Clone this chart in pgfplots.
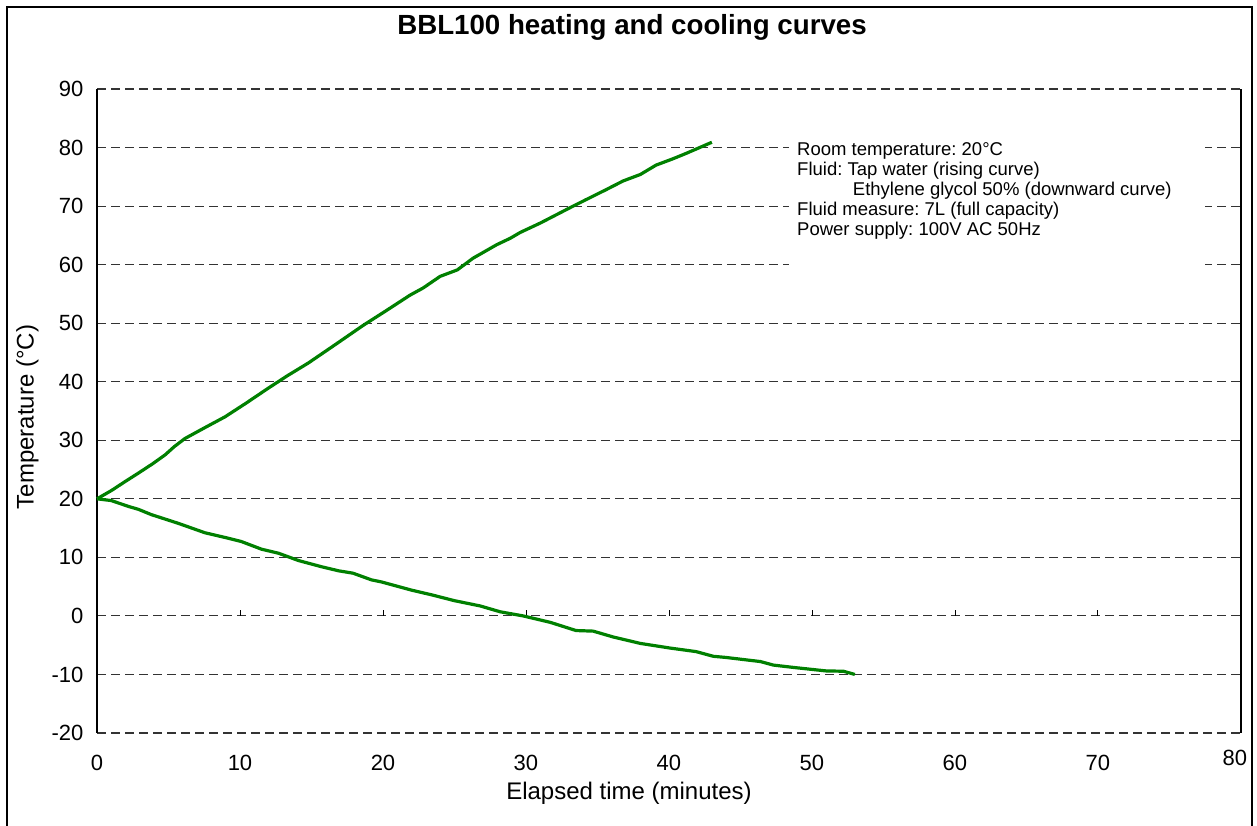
\documentclass[border=0pt]{standalone}
\usepackage{pgfplots}
\pgfplotsset{compat=1.18}
\usepackage{fontspec}
\setmainfont{Liberation Sans}
\frenchspacing
\definecolor{curvegreen}{RGB}{0,128,0}

\begin{document}
\begin{tikzpicture}
\begin{axis}[
  scale only axis, width=1144pt, height=644pt,
  xmin=0, xmax=80, ymin=-20, ymax=90,
  xtick={0,10,...,70}, ytick={-20,-10,...,90},
  extra x ticks={80},
  extra x tick style={xticklabel style={xshift=-6pt, yshift=5pt}},
  ymajorgrids,
  grid style={black!80, line width=1.1pt, dash pattern=on 9pt off 5pt},
  axis line style={draw=none},
  major tick length=0pt,
  tick label style={font=\fontsize{22}{26}\selectfont},
  /pgf/number format/assume math mode=true,
  xticklabel style={inner sep=0pt, anchor=north, yshift=-22pt},
  yticklabel style={inner sep=0pt, anchor=east, xshift=-13.5pt},
  clip=false,
]
\coordinate (O) at (rel axis cs:0,1);
\draw[line width=1.6pt] (rel axis cs:0,0) -- (rel axis cs:0,1);
\draw[line width=1.6pt] (rel axis cs:1,0) -- (rel axis cs:1,1);
% small ticks on the zero line
\draw[line width=0.9pt] (axis cs:10,0) -- ([yshift=6pt]axis cs:10,0);
\draw[line width=0.9pt] (axis cs:20,0) -- ([yshift=6pt]axis cs:20,0);
\draw[line width=0.9pt] (axis cs:30,0) -- ([yshift=6pt]axis cs:30,0);
\draw[line width=0.9pt] (axis cs:40,0) -- ([yshift=6pt]axis cs:40,0);
\draw[line width=0.9pt] (axis cs:50,0) -- ([yshift=6pt]axis cs:50,0);
\draw[line width=0.9pt] (axis cs:60,0) -- ([yshift=6pt]axis cs:60,0);
\draw[line width=0.9pt] (axis cs:70,0) -- ([yshift=6pt]axis cs:70,0);
% white box behind annotation
\fill[white] (axis cs:48.4,59.2) rectangle (axis cs:77.5,82.6);

% heating curve (tap water)
\addplot[curvegreen, line width=3.2pt, line join=round, no markers] coordinates {
(0,20) (1.0,21.4) (2.0,23.0) (2.9,24.4) (3.9,26.0) (4.76,27.5) (5.4,28.9) (6.15,30.3)
(7.5,32.1) (8.95,34.0) (10.4,36.3) (11.98,38.9) (13.3,41.0) (14.78,43.2)
(16.7,46.4) (18.6,49.6) (20.2,52.1) (21.9,54.8) (22.8,56.0)
(24.0,58.0) (25.2,59.1) (26.3,61.1) (27.95,63.4) (28.9,64.5) (29.6,65.5)
(31.0,67.1) (33.3,70.0) (34.2,71.1) (35.6,72.8) (36.8,74.3) (38.0,75.4)
(39.1,77.0) (40.3,78.1) (41.2,79.0) (43.0,80.9)
};
% cooling curve (ethylene glycol 50%)
\addplot[curvegreen, line width=3.2pt, line join=round, no markers] coordinates {
(0,20) (1.0,19.7) (2.2,18.7) (2.9,18.2) (3.8,17.3) (5.7,15.8) (7.55,14.2)
(8.95,13.4) (10.1,12.7) (11.5,11.4) (12.7,10.7) (14.1,9.45) (15.7,8.4)
(16.9,7.7) (17.9,7.3) (19.2,6.15) (19.9,5.8) (21.1,5.0) (22.0,4.4) (23.4,3.6)
(25.0,2.6) (26.8,1.7) (28.2,0.7) (29.8,0.0) (31.7,-1.1) (33.5,-2.5) (34.7,-2.6)
(36.1,-3.6) (38.0,-4.7) (40.1,-5.5) (41.9,-6.1) (43.1,-6.9) (44.0,-7.1)
(46.4,-7.8) (47.3,-8.4) (48.7,-8.8) (51.0,-9.4) (52.2,-9.45) (53.0,-10.0)
};
\end{axis}
\pgfresetboundingbox
\begin{scope}[shift={([xshift=-97pt,yshift=89pt]O)}, x=1pt, y=-1pt]
\useasboundingbox (0,0) rectangle (1257,825);
\draw[line width=2.5pt] (7,830) -- (7,7) -- (1252,7) -- (1252,830);
\node[anchor=base, inner sep=0pt, font=\bfseries\fontsize{27.7}{32}\selectfont] at (632,35) {BBL100 heating and cooling curves};
\node[anchor=north, inner sep=0pt, font=\fontsize{24}{28}\selectfont] at (629,782) {Elapsed time (minutes)};
\node[rotate=90, inner sep=0pt, font=\fontsize{24}{28}\selectfont] at (27.5,417) {Temperature (°C)};
\begin{scope}[every node/.style={anchor=base west, inner sep=0pt, font=\fontsize{18.5}{20}\selectfont}]
\node at (797,156) {Room temperature: 20°C};
\node at (797,176) {Fluid: Tap water (rising curve)};
\node at (852.7,196) {Ethylene glycol 50\% (downward curve)};
\node at (797,216) {Fluid measure: 7L (full capacity)};
\node at (797,236) {Power supply: 100V AC 50Hz};
\end{scope}
\end{scope}
\end{tikzpicture}
\end{document}
